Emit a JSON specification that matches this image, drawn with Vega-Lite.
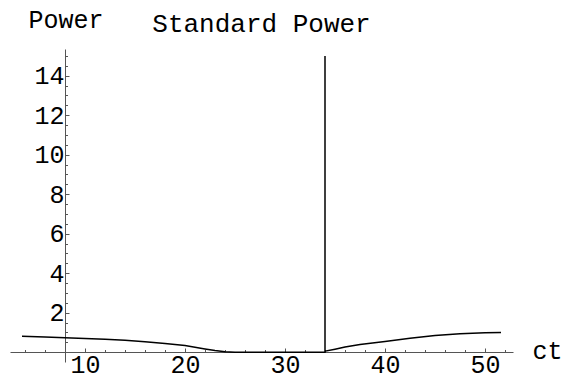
{
  "$schema": "https://vega.github.io/schema/vega-lite/v6.json",
  "width": 503,
  "height": 313,
  "autosize": {"type": "none"},
  "padding": {"left": 10, "top": 49, "right": 48, "bottom": 15},
  "background": "white",
  "title": {
    "text": "Standard Power",
    "anchor": "middle",
    "frame": "group",
    "baseline": "alphabetic",
    "offset": -51,
    "font": "Liberation Mono",
    "fontSize": 26,
    "fontWeight": "normal",
    "color": "black"
  },
  "config": {
    "view": {"stroke": null},
    "axis": {
      "grid": false,
      "labelFont": "Liberation Mono",
      "labelFontSize": 25,
      "labelColor": "black",
      "titleFont": "Liberation Mono",
      "titleFontSize": 25,
      "titleFontWeight": "normal",
      "titleColor": "black",
      "domainColor": "#555555",
      "tickColor": "#555555",
      "domainWidth": 1,
      "tickWidth": 1
    }
  },
  "data": {
    "values": [
      {"ct": 3.7, "power": 0.80},
      {"ct": 6, "power": 0.76},
      {"ct": 8, "power": 0.73},
      {"ct": 10, "power": 0.69},
      {"ct": 12, "power": 0.65},
      {"ct": 14, "power": 0.60},
      {"ct": 16, "power": 0.53},
      {"ct": 18, "power": 0.44},
      {"ct": 20, "power": 0.33},
      {"ct": 21, "power": 0.25},
      {"ct": 22, "power": 0.16},
      {"ct": 23, "power": 0.08},
      {"ct": 24, "power": 0.02},
      {"ct": 25, "power": 0},
      {"ct": 30, "power": 0},
      {"ct": 34, "power": 0},
      {"ct": 34, "power": 15},
      {"ct": 34, "power": 0.05},
      {"ct": 35, "power": 0.15},
      {"ct": 36, "power": 0.26},
      {"ct": 37.5, "power": 0.39},
      {"ct": 40, "power": 0.54},
      {"ct": 42.5, "power": 0.70},
      {"ct": 45, "power": 0.84},
      {"ct": 47.5, "power": 0.93},
      {"ct": 50, "power": 0.98},
      {"ct": 51.6, "power": 1.0}
    ]
  },
  "mark": {"type": "line", "color": "black", "strokeWidth": 1.5, "clip": false},
  "encoding": {
    "order": {"value": null},
    "x": {
      "field": "ct",
      "type": "quantitative",
      "scale": {"domain": [2.5, 52.8], "nice": false, "zero": false},
      "axis": {
        "orient": "bottom",
        "offset": -10,
        "title": "ct",
        "titleX": 522,
        "titleY": 6,
        "titleAlign": "left",
        "titleBaseline": "alphabetic",
        "titleAngle": 0,
        "values": [4, 6, 8, 10, 12, 14, 16, 18, 20, 22, 24, 26, 28, 30, 32, 34, 36, 38, 40, 42, 44, 46, 48, 50, 52],
        "labelExpr": "datum.value % 10 === 0 ? '' + datum.value : ''",
        "tickSize": {"condition": {"test": "datum.value % 10 === 0", "value": -4}, "value": -2.5},
        "labelPadding": 4,
        "labelFlush": false,
        "labelOverlap": false
      }
    },
    "y": {
      "field": "power",
      "type": "quantitative",
      "scale": {"domain": [-0.5, 15.35], "nice": false, "zero": false},
      "axis": {
        "orient": "left",
        "offset": -55,
        "title": "Power",
        "titleX": -37,
        "titleY": -22,
        "titleAlign": "left",
        "titleBaseline": "alphabetic",
        "titleAngle": 0,
        "values": [0.5, 1, 1.5, 2, 2.5, 3, 3.5, 4, 4.5, 5, 5.5, 6, 6.5, 7, 7.5, 8, 8.5, 9, 9.5, 10, 10.5, 11, 11.5, 12, 12.5, 13, 13.5, 14, 14.5, 15],
        "labelExpr": "datum.value % 2 === 0 ? '' + datum.value : ''",
        "tickSize": {"condition": {"test": "datum.value % 2 === 0", "value": -4}, "value": -2.5},
        "labelPadding": 5,
        "labelFlush": false,
        "labelOverlap": false
      }
    }
  }
}
